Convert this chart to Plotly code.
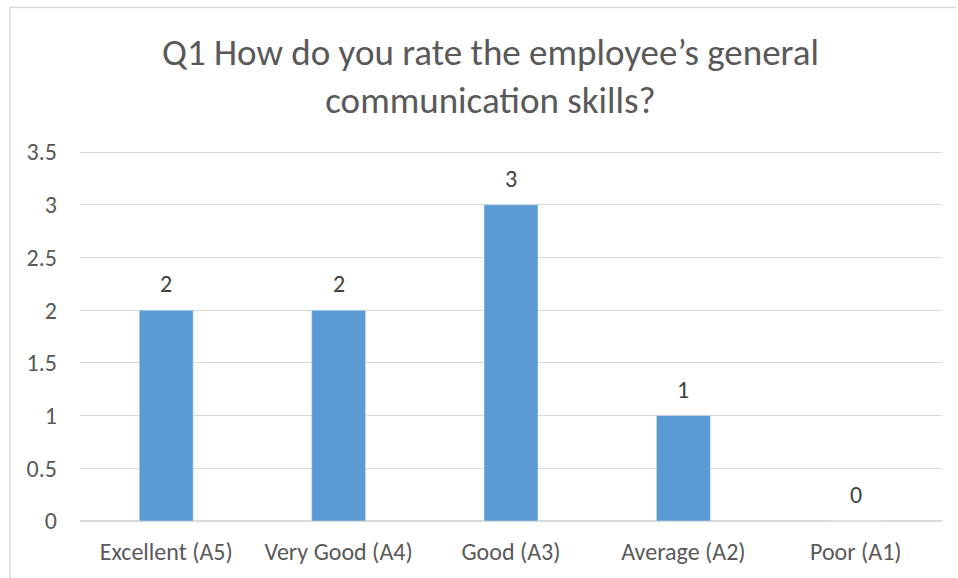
import plotly.graph_objects as go

categories = ["Excellent (A5)", "Very Good (A4)", "Good (A3)", "Average (A2)", "Poor (A1)"]
responses = [2, 2, 3, 1, 0]
y_ticks = [0, 0.5, 1, 1.5, 2, 2.5, 3, 3.5]
y_tick_text = ["0", "0.5", "1", "1.5", "2", "2.5", "3", "3.5"]
title_text = "Q1 How do you rate the employee’s general<br>communication skills?"

W, H = 958, 578
L, R, T, B = 80, 16, 151, 57
y_max = 3.51
font_family = "Carlito, Lato, sans-serif"

def px_x(px):
    return (px - L) / (W - L - R)

def px_y(py):
    return (H - B - py) / (H - T - B)

fig = go.Figure(
    go.Bar(
        x=categories,
        y=responses,
        marker_color="#5B9BD5",
        width=0.313,
        hoverinfo="x+y",
    )
)

# value labels above each bar
value_labels = [
    dict(
        x=cat,
        y=val,
        xref="x",
        yref="y",
        text=str(val),
        showarrow=False,
        yanchor="bottom",
        yshift=10,
        font=dict(size=24, color="#404040", family=font_family),
    )
    for cat, val in zip(categories, responses)
]

fig.update_layout(
    width=W,
    height=H,
    margin=dict(l=L, r=R, t=T, b=B),
    paper_bgcolor="white",
    plot_bgcolor="white",
    showlegend=False,
    font=dict(family=font_family, color="#595959"),
    xaxis=dict(
        showgrid=False,
        showline=False,
        ticks="",
        tickfont=dict(size=24, color="#595959"),
        ticklabelstandoff=14,
    ),
    yaxis=dict(
        range=[0, y_max],
        tickvals=y_ticks,
        ticktext=y_tick_text,
        showgrid=True,
        gridcolor="#D9D9D9",
        gridwidth=1,
        zeroline=True,
        zerolinecolor="#D9D9D9",
        zerolinewidth=1.5,
        showline=False,
        ticks="",
        tickfont=dict(size=24, color="#595959"),
        ticklabelstandoff=22,
    ),
    annotations=[
        dict(
            text=title_text,
            xref="paper",
            yref="paper",
            x=px_x(490),
            y=px_y(76),
            xanchor="center",
            yanchor="middle",
            showarrow=False,
            font=dict(size=37, color="#595959", family=font_family),
        )
    ] + value_labels,
    shapes=[
        dict(
            type="path",
            xref="paper",
            yref="paper",
            path=f"M {px_x(10)} {px_y(600)} L {px_x(10)} {px_y(7.5)} L {px_x(956)} {px_y(7.5)}",
            line=dict(color="#D9D9D9", width=1.5),
        )
    ],
)

fig.write_html("out.html")
